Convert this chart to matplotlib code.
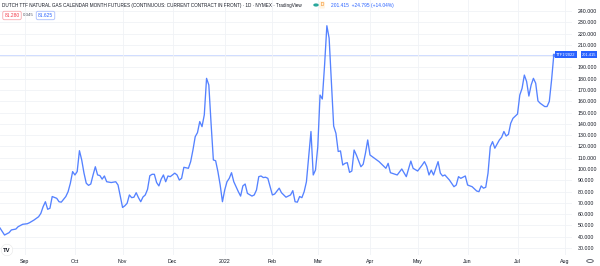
import numpy as np
import matplotlib
matplotlib.use("Agg")
import matplotlib.pyplot as plt

# ---- data (trading-day index counted from 2021-09-01, settlement price EUR/MWh) ----
day = [-11, -9, -7, -6, -4, -3, -1, 1, 2, 4, 6, 7, 8, 9, 10, 11, 12, 14, 15, 16,
       18, 19, 20, 21, 22, 23, 24, 25, 26, 27, 28, 29, 30, 31, 32, 33, 34, 35, 36, 38,
       40, 41, 42, 43, 44, 45, 46, 47, 48, 49, 50, 51, 52, 53, 54, 55, 56, 57, 58, 59,
       60, 61, 62, 63, 64, 66, 67, 68, 69, 70, 72, 73, 74, 75, 76, 77, 78, 79, 80, 81,
       82, 83, 84, 85, 86, 87, 88, 89, 90, 91, 92, 93, 94, 95, 96, 97, 98, 100, 101, 102,
       103, 104, 105, 106, 107, 108, 109, 110, 112, 113, 115, 117, 118, 119, 120, 121, 122, 123, 124, 126,
       127, 128, 129, 130, 131, 132, 133, 134, 135, 136, 137, 138, 139, 140, 141, 142, 143, 144, 145, 146,
       148, 149, 150, 151, 152, 154, 156, 159, 160, 161, 163, 164, 166, 168, 170, 171, 173, 175, 176, 177,
       178, 179, 180, 182, 183, 184, 185, 187, 189, 190, 191, 192, 194, 195, 197, 199, 200, 201, 202, 203,
       204, 205, 206, 207, 209, 210, 211, 212, 213, 214, 215, 217, 218, 219, 220, 221, 222, 223, 224, 225,
       226, 227, 229, 230, 231, 232, 233]
price = [47.7, 41.5, 43.6, 46.0, 46.8, 48.9, 51.0, 51.5, 52.4, 54.8, 57.7, 60.7, 66.6, 71.0, 64.3, 65.2, 75.6, 74.0, 71.0, 70.6,
         75.6, 79.9, 87.4, 97.7, 94.7, 97.7, 116.2, 108.0, 96.4, 87.4, 85.5, 86.7, 94.7, 102.0, 94.7, 94.2, 91.0, 93.8, 88.7, 88.0,
         88.7, 85.8, 75.6, 65.9, 67.4, 69.6, 77.0, 74.6, 75.0, 79.0, 74.6, 71.0, 75.2, 77.0, 82.0, 94.0, 95.3, 95.3, 88.0, 85.0,
         91.0, 94.7, 88.7, 93.8, 93.2, 96.3, 94.7, 90.2, 91.7, 101.5, 100.6, 106.5, 116.8, 128.6, 132.2, 142.0, 137.5, 147.9, 180.3, 174.4,
         140.0, 108.0, 107.3, 97.7, 85.8, 71.0, 81.4, 88.7, 91.7, 96.7, 88.7, 84.3, 79.9, 76.0, 85.0, 86.7, 78.4, 76.0, 77.0, 81.4,
         93.2, 93.8, 92.4, 92.7, 91.7, 84.3, 77.0, 77.8, 83.0, 79.0, 75.0, 77.0, 80.8, 71.0, 70.6, 75.6, 74.6, 79.9, 88.7, 133.2,
         94.7, 99.1, 119.7, 165.5, 162.0, 192.1, 226.9, 215.9, 177.5, 138.0, 131.6, 115.5, 116.0, 103.5, 105.0, 105.6, 97.0, 98.2, 116.8, 112.4,
         102.0, 104.2, 113.9, 125.7, 112.4, 109.4, 106.5, 100.6, 105.0, 96.7, 95.3, 94.7, 100.0, 93.2, 107.0, 100.6, 98.2, 103.5, 106.5, 102.3,
         94.7, 99.0, 94.7, 106.5, 96.3, 93.8, 94.7, 90.2, 84.3, 85.8, 93.2, 91.7, 93.8, 85.8, 84.3, 80.5, 79.9, 85.0, 83.0, 83.8,
         96.3, 119.7, 124.2, 118.4, 125.7, 128.1, 133.2, 129.2, 130.7, 140.5, 144.9, 148.7, 165.5, 171.4, 183.2, 177.5, 164.6, 174.4, 180.3, 176.0,
         160.3, 158.2, 155.3, 155.3, 159.8, 178.8, 201.415]

month_starts = ["2021-09-01", "2021-10-01", "2021-11-01", "2021-12-01", "2022-01-03", "2022-02-01",
                "2022-03-01", "2022-04-01", "2022-05-02", "2022-06-01", "2022-07-01", "2022-08-01"]
month_labels = ["Sep", "Oct", "Nov", "Dec", "2022", "Feb", "Mar", "Apr", "May", "Jun", "Jul", "Aug"]
y_ticks = list(range(30, 250, 10))

title = "DUTCH TTF NATURAL GAS CALENDAR MONTH FUTURES (CONTINUOUS: CURRENT CONTRACT IN FRONT) · 1D · NYMEX · TradingView"
last_info = "201.415  +24.795 (+14.04%)"
sell_px, spread, buy_px = "81.280", "0.345", "81.625"
symbol = "TTF1!2022"

# ---- figure ----
W, H = 600, 266
fig = plt.figure(figsize=(6.0, 2.66), dpi=100)
fig.patch.set_facecolor("white")
plt.rcParams["font.family"] = ["Liberation Sans", "DejaVu Sans"]

ax = fig.add_axes([0, 11 / H, 572 / W, 255 / H])
ax.set_facecolor("white")
LINE = "#5582ff"
GRID = "#f0f2f6"
TXT = "#131722"

tick_pos = np.busday_count(np.datetime64("2021-09-01"), np.array(month_starts, dtype="datetime64[D]"))

ax.plot(day, price, color=LINE, lw=0.95, solid_joinstyle="round", zorder=3)
ax.plot(day[-1], price[-1], marker="s", ms=1.5, color=LINE, zorder=4)
ax.axhline(price[-1], xmax=(556 / 572), color="#2962ff", alpha=0.22, lw=0.7, zorder=1)

ax.set_xlim(-11.0, 241.0)
ax.set_ylim(23.8, 249.7)
ax.set_xticks(tick_pos)
ax.set_xticklabels(month_labels)
ax.set_yticks(y_ticks)
# the 200 label sits under the last-price tag on the scale
ax.set_yticklabels(["" if abs(v - price[-1]) < 5 else f"{v:.3f}" for v in y_ticks])
ax.yaxis.tick_right()
ax.tick_params(axis="both", length=0, labelsize=3.8, colors=TXT)
ax.tick_params(axis="y", pad=4.0)
ax.tick_params(axis="x", pad=2.6)
ax.grid(True, color=GRID, lw=0.6, zorder=0)
for s in ax.spines.values():
    s.set_visible(False)

def fx(px):
    return px / W

def fy(py):
    return 1 - py / H

# header
fig.text(fx(2), fy(5), title, fontsize=3.32, color=TXT, va="center", ha="left")
fig.text(fx(331), fy(5), last_info, fontsize=3.5, color="#2962ff", va="center", ha="left")
fig.patches.append(plt.Circle((fx(316), fy(5)), 0.0033, transform=fig.transFigure, color="#26a69a"))
fig.text(fx(322), fy(5), "D", fontsize=3.3, color="#f57c00", va="center", ha="center",
         bbox=dict(boxstyle="round,pad=0.25", fc="#fff3e0", ec="none"))

fig.text(fx(12), fy(15.5), sell_px, fontsize=3.5, color="#f23645", va="center", ha="center",
         bbox=dict(boxstyle="round,pad=0.35", fc="white", ec="#f7a9af", lw=0.6))
fig.text(fx(28.5), fy(15.5), spread, fontsize=3.2, color="#555a66", va="center", ha="center")
fig.text(fx(45.5), fy(15.5), buy_px, fontsize=3.5, color="#2962ff", va="center", ha="center",
         bbox=dict(boxstyle="round,pad=0.35", fc="white", ec="#a9bdfb", lw=0.6))

# price label on scale
fig.text(fx(566), fy(54.5), symbol, fontsize=2.9, color="white", va="center", ha="center",
         bbox=dict(boxstyle="square,pad=0.3", fc="#2962ff", ec="none"))
fig.text(fx(589), fy(54.5), f"{price[-1]:.3f}", fontsize=2.9, color="white", va="center", ha="center",
         bbox=dict(boxstyle="square,pad=0.3", fc="#2962ff", ec="none"))

# logo and gear
fig.text(fx(7), fy(250), "TV", fontsize=4.2, fontweight="bold", color="#131722", va="center", ha="center",
         bbox=dict(boxstyle="circle,pad=0.35", fc="white", ec="#e6e6e6", lw=0.4))
fig.patches.append(plt.Circle((fx(590), fy(261)), 0.0055, transform=fig.transFigure,
                              fc="none", ec="#50535e", lw=0.6))

fig.savefig("out.png", dpi=100, facecolor="white")
